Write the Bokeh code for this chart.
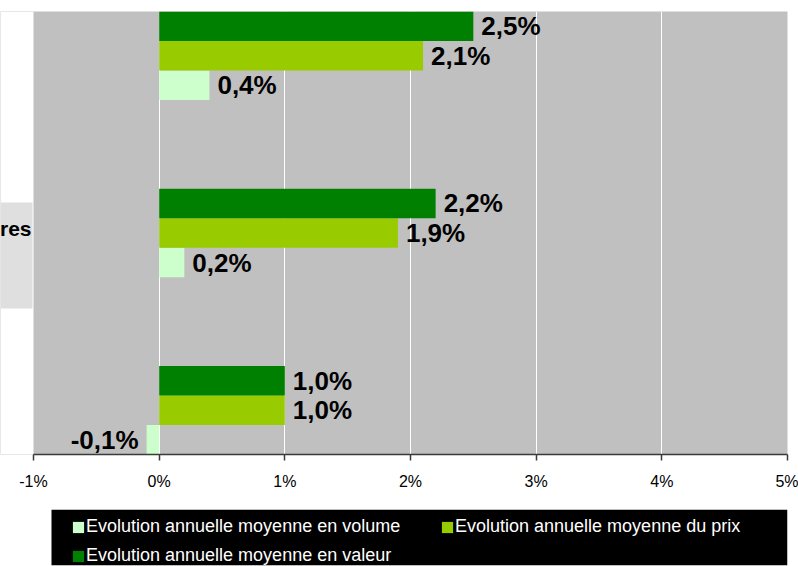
from bokeh.plotting import figure
from bokeh.layouts import column
from bokeh.models import (ColumnDataSource, Range1d, FixedTicker, BoxAnnotation,
                          Legend, LegendItem)
from bokeh.transform import dodge
from bokeh.core.properties import value
from bokeh.embed import file_html
from bokeh.resources import INLINE

# ---- data (categories listed top to bottom) ----
categories = ["Catégorie 1", "…res", "Catégorie 3"]
category_label_visible = "res"
series_names = ["Evolution annuelle moyenne en volume",
                "Evolution annuelle moyenne du prix",
                "Evolution annuelle moyenne en valeur"]
volume = [0.4, 0.2, -0.1]
prix = [2.1, 1.9, 1.0]
valeur = [2.5, 2.2, 1.0]
colors = ["#CCFFCC", "#99CC00", "#008000"]
ticks = [-1, 0, 1, 2, 3, 4, 5]
tick_labels = ["-1%", "0%", "1%", "2%", "3%", "4%", "5%"]

FONT = "Liberation Sans"
n = len(categories)
pos = [n - 1 - i for i in range(n)]
series_values = [volume, prix, valeur]
offsets = [-1 / 6, 0.0, 1 / 6]
bar_h = 1 / 6

# ---- layout constants (pixels) ----
W = 798
FRAME_RIGHT = 787      # canvas x of the last tick
AXIS_LEFT = 33         # canvas x of the first tick
TOP, BOTTOM = 11, 454  # frame top / bottom
MAIN_H = 509
px_x = (FRAME_RIGHT - AXIS_LEFT) / (ticks[-1] - ticks[0])
y0, y1 = -0.25, n - 1 + 0.25
px_y = (BOTTOM - TOP) / (y1 - y0)
x_start = ticks[0] - AXIS_LEFT / px_x

p = figure(width=W, height=MAIN_H, output_backend="svg", toolbar_location=None,
           x_range=Range1d(x_start, ticks[-1]), y_range=Range1d(y0, y1),
           min_border_left=0, min_border_right=W - FRAME_RIGHT, min_border_top=TOP,
           min_border_bottom=MAIN_H - BOTTOM)
p.background_fill_color = "#C0C0C0"
p.border_fill_color = "white"
p.outline_line_color = None

# white strip left of the plot area, and the (cut off) category label box
p.add_layout(BoxAnnotation(right=ticks[0], fill_color="white", fill_alpha=1,
                           line_color=None, level="underlay"))
p.add_layout(BoxAnnotation(right=ticks[0] - 1 / px_x,
                           top=pos[1] + 30.5 / px_y, bottom=pos[1] - 75.5 / px_y,
                           fill_color="#DFDFDF", fill_alpha=1, line_color=None,
                           level="underlay"))
p.text(x=[ticks[0]], y=[pos[1]], text=[category_label_visible], x_offset=-2, y_offset=-5,
       text_align="right", text_baseline="middle", text_font=value(FONT),
       text_font_style="bold", text_font_size="21px", text_color="black")

for name, vals, col, off in zip(series_names, series_values, colors, offsets):
    src = ColumnDataSource(dict(
        pos=pos, val=vals,
        lbl=[f"{v:.1f}".replace(".", ",") + "%" for v in vals],
        align=["left" if v >= 0 else "right" for v in vals],
        xoff=[8 if v >= 0 else -8 for v in vals],
    ))
    p.hbar(y=dodge("pos", off), right="val", left=0, height=bar_h, source=src,
           fill_color=col, line_color=None)
    p.text(x="val", y=dodge("pos", off), text="lbl", source=src, x_offset="xoff",
           text_align="align", text_baseline="middle", text_font=value(FONT),
           text_font_style="bold", text_font_size="26px", text_color="black")

# axes / grid
p.yaxis.visible = False
p.ygrid.visible = False
p.xaxis.ticker = FixedTicker(ticks=ticks)
p.xaxis.bounds = (ticks[0], ticks[-1])
p.xaxis.major_label_overrides = dict(zip(ticks, tick_labels))
p.xaxis.minor_tick_line_color = None
p.xaxis.major_tick_out = 6
p.xaxis.major_tick_in = 0
p.xaxis.axis_line_color = "#3a3a3a"
p.xaxis.axis_line_width = 1.5
p.xaxis.major_tick_line_color = "#3a3a3a"
p.xaxis.major_tick_line_width = 1.5
p.xaxis.major_label_text_font = FONT
p.xaxis.major_label_text_font_size = "16px"
p.xaxis.major_label_text_color = "black"
p.xaxis.major_label_standoff = 12
p.xgrid.ticker = FixedTicker(ticks=ticks[1:])
p.xgrid.grid_line_color = "white"
p.xgrid.grid_line_width = 1

# ---- legend panel (black box); frame is aligned with the main plot ----
LEG_LEFT, LEG_H = 51, 57
lf = figure(width=W, height=LEG_H, output_backend="svg", toolbar_location=None,
            x_range=Range1d(0, FRAME_RIGHT), y_range=Range1d(0, 1),
            min_border_left=0, min_border_right=W - FRAME_RIGHT,
            min_border_top=0, min_border_bottom=1)
lf.axis.visible = False
lf.grid.visible = False
lf.background_fill_color = "white"
lf.border_fill_color = "white"
lf.outline_line_color = None
lf.add_layout(BoxAnnotation(left=LEG_LEFT, fill_color="black", fill_alpha=1,
                            line_color=None, level="underlay"))
nan = float("nan")
leg_renderers = [lf.hbar(y=[nan], right=[nan], height=0.1, fill_color=c, line_color=None)
                 for c in colors]
legend = Legend(items=[LegendItem(label=nm, renderers=[r])
                       for nm, r in zip(series_names, leg_renderers)],
                location=(71, -1), orientation="horizontal", ncols=2,
                glyph_width=14, glyph_height=14, label_standoff=1, label_width=346,
                label_height=21, spacing=8, padding=0, margin=0,
                label_text_font=FONT, label_text_font_size="18px", label_text_color="white",
                background_fill_alpha=0, border_line_color=None)
lf.add_layout(legend)

layout = column(p, lf, spacing=0)
open("out.html", "w").write(file_html(layout, INLINE))
